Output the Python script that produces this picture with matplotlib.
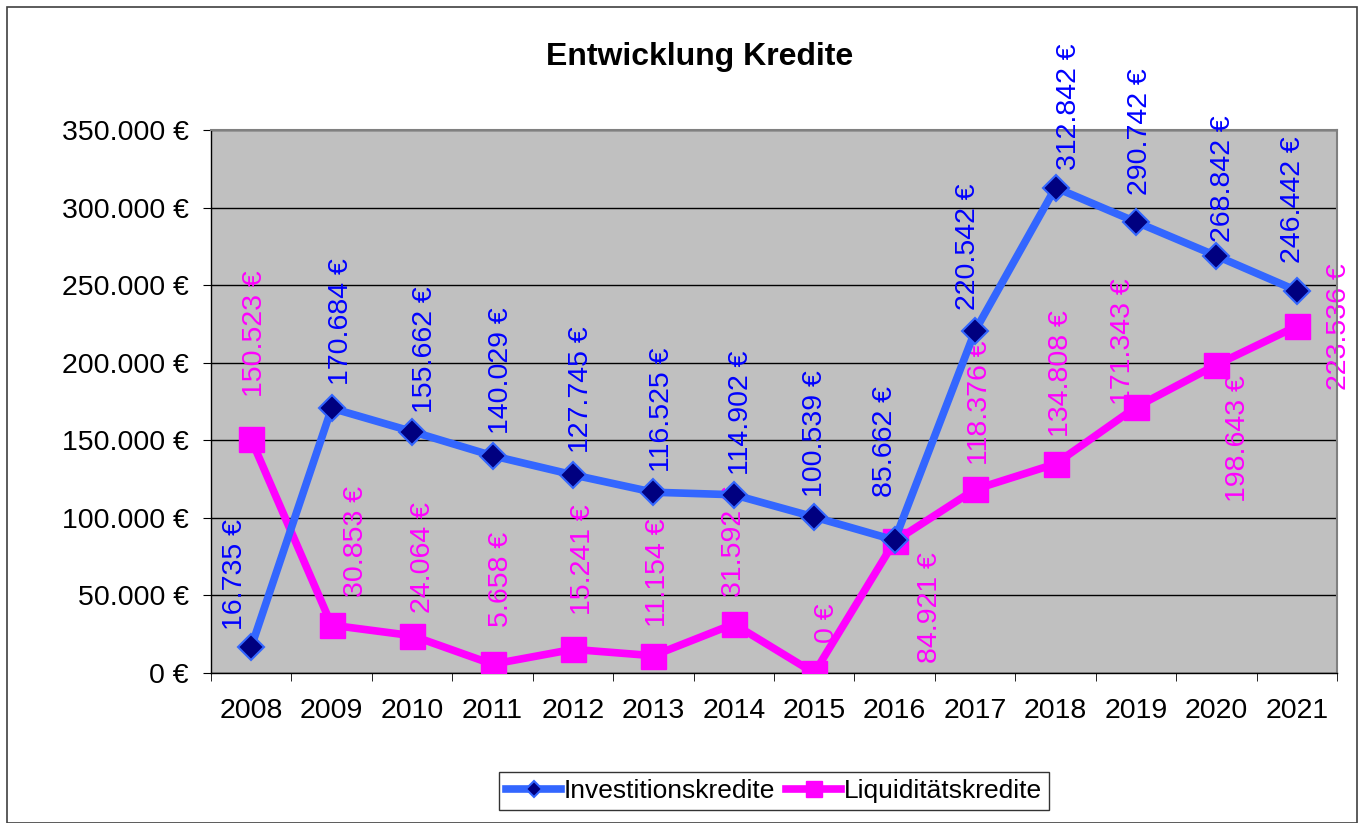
import matplotlib
matplotlib.use("Agg")
import matplotlib.pyplot as plt
from matplotlib.ticker import FuncFormatter, MultipleLocator
from matplotlib.patches import Rectangle

plt.rcParams['font.family'] = ['Liberation Sans', 'DejaVu Sans']

# data
years = ['2008', '2009', '2010', '2011', '2012', '2013', '2014',
         '2015', '2016', '2017', '2018', '2019', '2020', '2021']
investition = [16735, 170684, 155662, 140029, 127745, 116525, 114902,
               100539, 85662, 220542, 312842, 290742, 268842, 246442]
liquiditaet = [150523, 30853, 24064, 5658, 15241, 11154, 31592,
               0, 84921, 118376, 134808, 171343, 198643, 223536]

# label placement (pixel offsets, vertical anchor)
inv_offsets = [(-16, 17), (9, 23), (13, 19), (8, 22), (8, 22), (9, 20), (7, 20),
               (1, 20), (-10, 43), (-7, 21), (14, 18), (4, 27), (7, 14), (-4, 28)]
liq_offsets = [(4, 42, 'bottom'), (24, 28, 'bottom'), (11, 23, 'bottom'),
               (8, 37, 'bottom'), (10, 34, 'bottom'), (5, 29, 'bottom'),
               (0, 27, 'bottom'), (13, 30, 'bottom'), (35, -11, 'top'),
               (5, 24, 'bottom'), (5, 27, 'bottom'), (-13, 2, 'bottom'),
               (22, -10, 'top'), (42, 0, 'center')]


def euro(v):
    return '{:,.0f} €'.format(v).replace(',', '.')


fig = plt.figure(figsize=(13.62, 8.23), dpi=100)
ax = fig.add_axes([211 / 1362, 1 - 673 / 823, 1126 / 1362, 543 / 823])
ax.set_facecolor('#C0C0C0')

x = list(range(len(years)))
ax.plot(x, investition, color='#3366FF', lw=5.5, marker='D', ms=13,
        mfc='#000080', mec='#3366FF', mew=1.5, zorder=4,
        label='Investitionskredite')
ax.plot(x, liquiditaet, color='#FF00FF', lw=5.5, marker='s', ms=18,
        mfc='#FF00FF', mec='#FF00FF', zorder=3, label='Liquiditätskredite')

for i, v in enumerate(investition):
    dx, dy = inv_offsets[i]
    ax.annotate(euro(v), (i, v), xytext=(dx, dy), textcoords='offset pixels',
                rotation=90, ha='center', va='bottom', fontsize=20.5,
                color='#0000FF', annotation_clip=False, zorder=5)
for i, v in enumerate(liquiditaet):
    dx, dy, va = liq_offsets[i]
    ax.annotate(euro(v), (i, v), xytext=(dx, dy), textcoords='offset pixels',
                rotation=90, ha='center', va=va, fontsize=20.5,
                color='#FF00FF', annotation_clip=False, zorder=2.5)

ax.set_xlim(-0.5, len(years) - 0.5)
ax.set_ylim(0, 350000)
ax.yaxis.set_major_locator(MultipleLocator(50000))
ax.yaxis.set_major_formatter(FuncFormatter(lambda v, p: euro(v)))
ax.grid(axis='y', color='black', lw=1, zorder=1)
ax.set_axisbelow(True)

ax.set_xticks(x)
ax.set_xticklabels(years)
ax.set_xticks([i - 0.5 for i in range(len(years) + 1)], minor=True)
ax.tick_params(axis='x', which='major', length=0, labelsize=20.5, pad=18)
ax.tick_params(axis='x', which='minor', length=6, direction='out', color='black')
ax.tick_params(axis='y', length=6, direction='out', labelsize=20.5, pad=10)

for s in ['top', 'right']:
    ax.spines[s].set_color('#808080')
    ax.spines[s].set_linewidth(1.5)
for s in ['left', 'bottom']:
    ax.spines[s].set_color('black')
    ax.spines[s].set_linewidth(1)

fig.text(700 / 1362, 1 - 57 / 823, 'Entwicklung Kredite', ha='center',
         va='center', fontsize=23, fontweight='bold')

leg = fig.legend(loc='center', bbox_to_anchor=(774 / 1362, 1 - 791 / 823),
                 ncol=2, fontsize=19, frameon=True, fancybox=False,
                 handlelength=2.1, handletextpad=0.1, columnspacing=0.4,
                 borderpad=0.25, markerscale=0.65)
leg.get_frame().set_edgecolor('black')
leg.get_frame().set_linewidth(1)

fig.patches.append(Rectangle((7 / 1362, 0), 1350 / 1362, 1 - 7 / 823,
                             transform=fig.transFigure, fill=False,
                             edgecolor='#404040', lw=1.2))

fig.savefig('out.png', dpi=100)
